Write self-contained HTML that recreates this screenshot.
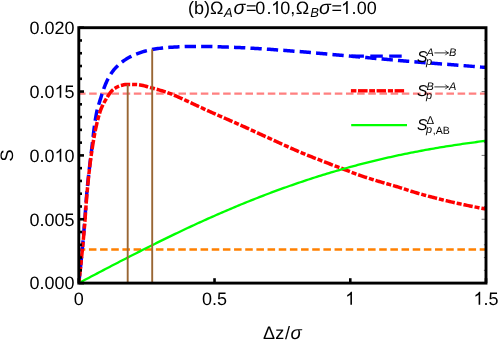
<!DOCTYPE html>
<html><head><meta charset="utf-8">
<style>
html,body{margin:0;padding:0;background:#fff;}
svg{display:block;}
text{font-family:"Liberation Sans",sans-serif;fill:#000;text-rendering:geometricPrecision;}
.it{font-style:italic;}
</style></head>
<body>
<svg style="will-change:transform" width="498" height="340" viewBox="0 0 498 340">
<rect x="0" y="0" width="498" height="340" fill="#fff"/>
<defs><clipPath id="clip"><rect x="78.8" y="27.7" width="407.2" height="255.40000000000003"/></clipPath></defs>
<g clip-path="url(#clip)" fill="none">
<line x1="78.0" y1="93.55" x2="487" y2="93.55" stroke="#ff8080" stroke-width="2.3" stroke-dasharray="7.55 3.615"/>
<line x1="77.75" y1="249.55" x2="487" y2="249.55" stroke="#ff8000" stroke-width="2.4" stroke-dasharray="7.55 3.615"/>
<path d="M78.80,283.10 L78.96,281.61 L79.12,280.13 L79.28,278.64 L79.44,277.15 L79.60,275.66 L79.76,274.18 L79.92,272.69 L80.07,271.20 L80.23,269.71 L80.38,268.22 L80.54,266.74 L80.69,265.25 L80.84,263.76 L80.99,262.27 L81.14,260.78 L81.29,259.29 L81.43,257.81 L81.58,256.32 L81.72,254.83 L81.87,253.34 L82.01,251.85 L82.15,250.36 L82.30,248.87 L82.44,247.38 L82.58,245.89 L82.71,244.40 L82.85,242.92 L82.99,241.43 L83.12,239.94 L83.26,238.45 L83.39,236.96 L83.52,235.47 L83.65,233.98 L83.78,232.49 L83.91,231.00 L84.04,229.51 L84.17,228.02 L84.29,226.53 L84.41,225.04 L84.53,223.54 L84.64,222.05 L84.75,220.56 L84.87,219.07 L84.98,217.58 L85.08,216.08 L85.19,214.59 L85.30,213.10 L85.41,211.61 L85.51,210.12 L85.62,208.62 L85.73,207.13 L85.84,205.64 L85.95,204.15 L86.06,202.66 L86.17,201.16 L86.29,199.67 L86.40,198.18 L86.52,196.69 L86.65,195.20 L86.77,193.71 L86.90,192.22 L87.03,190.73 L87.17,189.24 L87.31,187.75 L87.45,186.27 L87.60,184.78 L87.75,183.29 L87.90,181.80 L88.06,180.31 L88.21,178.83 L88.37,177.34 L88.54,175.85 L88.70,174.37 L88.87,172.88 L89.04,171.39 L89.21,169.91 L89.38,168.42 L89.55,166.93 L89.73,165.45 L89.91,163.96 L90.08,162.48 L90.26,160.99 L90.44,159.51 L90.62,158.02 L90.80,156.54 L90.98,155.05 L91.16,153.57 L91.35,152.08 L91.53,150.60 L91.71,149.11 L91.89,147.63 L92.06,146.14 L92.23,144.65 L92.40,143.16 L92.57,141.67 L92.74,140.18 L92.91,138.69 L93.08,137.20 L93.25,135.70 L93.43,134.21 L93.60,132.72 L93.78,131.24 L93.97,129.75 L94.16,128.26 L94.35,126.78 L94.55,125.29 L94.75,123.81 L94.97,122.33 L95.19,120.86 L95.42,119.38 L95.65,117.91 L95.90,116.44 L96.16,114.98 L96.43,113.52 L96.71,112.06 L97.02,110.60 L97.38,109.15 L97.76,107.71 L98.17,106.27 L98.60,104.83 L99.04,103.39 L99.50,101.96 L99.95,100.53 L100.41,99.11 L100.86,97.68 L101.31,96.25 L101.76,94.82 L102.22,93.39 L102.69,91.96 L103.17,90.53 L103.66,89.11 L104.17,87.70 L104.70,86.30 L105.25,84.91 L105.82,83.54 L106.41,82.19 L107.04,80.85 L107.70,79.50 L108.40,78.16 L109.14,76.83 L109.90,75.51 L110.70,74.23 L111.53,72.97 L112.39,71.76 L113.27,70.59 L114.19,69.46 L115.16,68.35 L116.18,67.26 L117.25,66.19 L118.35,65.14 L119.49,64.12 L120.66,63.13 L121.84,62.18 L123.04,61.27 L124.25,60.41 L125.47,59.59 L126.71,58.80 L127.99,58.04 L129.31,57.31 L130.64,56.60 L132.00,55.93 L133.37,55.29 L134.76,54.69 L136.14,54.13 L137.53,53.60 L138.92,53.10 L140.34,52.61 L141.76,52.13 L143.20,51.68 L144.64,51.25 L146.09,50.84 L147.55,50.47 L149.01,50.12 L150.47,49.81 L151.93,49.54 L153.39,49.29 L154.86,49.05 L156.34,48.81 L157.82,48.59 L159.30,48.38 L160.79,48.18 L162.28,48.00 L163.77,47.83 L165.27,47.67 L166.76,47.54 L168.25,47.42 L169.74,47.32 L171.23,47.23 L172.72,47.14 L174.21,47.06 L175.71,46.97 L177.20,46.90 L178.70,46.82 L180.19,46.76 L181.69,46.69 L183.19,46.64 L184.68,46.59 L186.18,46.56 L187.67,46.53 L189.17,46.51 L190.67,46.50 L192.16,46.50 L193.66,46.50 L195.15,46.50 L196.65,46.50 L198.14,46.50 L199.64,46.50 L201.14,46.50 L202.63,46.50 L204.13,46.50 L205.62,46.50 L207.12,46.50 L208.62,46.50 L210.11,46.52 L211.61,46.54 L213.10,46.57 L214.60,46.61 L216.09,46.66 L217.59,46.71 L219.08,46.76 L220.58,46.82 L222.07,46.88 L223.57,46.94 L225.06,46.99 L226.56,47.05 L228.05,47.11 L229.55,47.16 L231.04,47.22 L232.54,47.27 L234.03,47.34 L235.53,47.40 L237.02,47.46 L238.51,47.53 L240.01,47.60 L241.50,47.67 L243.00,47.74 L244.49,47.81 L245.99,47.89 L247.48,47.97 L248.97,48.05 L250.47,48.13 L251.96,48.21 L253.45,48.29 L254.95,48.38 L256.44,48.47 L257.93,48.56 L259.42,48.65 L260.92,48.74 L262.41,48.84 L263.90,48.94 L265.39,49.04 L266.89,49.14 L268.38,49.24 L269.87,49.35 L271.36,49.45 L272.86,49.56 L274.35,49.67 L275.84,49.78 L277.33,49.89 L278.82,50.00 L280.32,50.11 L281.81,50.23 L283.30,50.34 L284.79,50.45 L286.28,50.57 L287.77,50.69 L289.26,50.80 L290.76,50.92 L292.25,51.04 L293.74,51.15 L295.23,51.27 L296.72,51.39 L298.21,51.51 L299.70,51.62 L301.19,51.74 L302.68,51.86 L304.18,51.99 L305.67,52.11 L307.16,52.23 L308.65,52.36 L310.14,52.49 L311.63,52.62 L313.12,52.75 L314.61,52.88 L316.10,53.01 L317.59,53.14 L319.08,53.28 L320.57,53.41 L322.06,53.55 L323.55,53.68 L325.04,53.82 L326.53,53.96 L328.01,54.09 L329.50,54.23 L330.99,54.37 L332.48,54.50 L333.97,54.64 L335.46,54.78 L336.95,54.92 L338.44,55.05 L339.93,55.19 L341.42,55.33 L342.91,55.46 L344.40,55.60 L345.89,55.73 L347.38,55.87 L348.87,56.00 L350.36,56.13 L351.85,56.26 L353.34,56.40 L354.83,56.53 L356.32,56.66 L357.81,56.80 L359.30,56.93 L360.79,57.06 L362.28,57.20 L363.77,57.33 L365.26,57.47 L366.75,57.60 L368.24,57.74 L369.73,57.87 L371.22,58.01 L372.71,58.14 L374.20,58.28 L375.69,58.41 L377.18,58.55 L378.67,58.68 L380.16,58.82 L381.65,58.95 L383.14,59.08 L384.63,59.22 L386.11,59.35 L387.60,59.49 L389.09,59.62 L390.58,59.75 L392.07,59.88 L393.56,60.02 L395.05,60.15 L396.54,60.28 L398.03,60.41 L399.52,60.54 L401.01,60.67 L402.51,60.80 L404.00,60.93 L405.49,61.05 L406.98,61.18 L408.47,61.31 L409.96,61.43 L411.45,61.56 L412.94,61.68 L414.43,61.81 L415.92,61.93 L417.41,62.05 L418.90,62.17 L420.39,62.29 L421.88,62.41 L423.37,62.53 L424.87,62.64 L426.36,62.76 L427.85,62.87 L429.34,62.99 L430.83,63.10 L432.32,63.21 L433.81,63.32 L435.31,63.43 L436.80,63.54 L438.29,63.65 L439.78,63.77 L441.27,63.88 L442.76,63.99 L444.26,64.10 L445.75,64.21 L447.24,64.33 L448.73,64.44 L450.22,64.56 L451.71,64.67 L453.20,64.79 L454.70,64.91 L456.19,65.03 L457.68,65.15 L459.17,65.27 L460.66,65.39 L462.15,65.51 L463.64,65.63 L465.13,65.75 L466.62,65.88 L468.11,66.00 L469.60,66.12 L471.09,66.24 L472.59,66.37 L474.08,66.49 L475.57,66.62 L477.06,66.74 L478.55,66.87 L480.04,66.99 L481.53,67.12 L483.02,67.25 L484.51,67.37 L486.00,67.50" stroke="#0000ff" stroke-width="3.5" stroke-dasharray="11.3 5.15" stroke-dashoffset="1.25"/>
<path d="M78.80,283.10 L78.97,281.62 L79.14,280.13 L79.31,278.65 L79.48,277.17 L79.64,275.69 L79.81,274.20 L79.97,272.72 L80.14,271.24 L80.30,269.75 L80.46,268.27 L80.62,266.78 L80.78,265.30 L80.93,263.82 L81.09,262.33 L81.24,260.85 L81.40,259.36 L81.55,257.88 L81.70,256.40 L81.85,254.91 L82.00,253.43 L82.15,251.94 L82.30,250.46 L82.44,248.97 L82.59,247.49 L82.73,246.00 L82.87,244.52 L83.01,243.03 L83.15,241.55 L83.29,240.06 L83.43,238.58 L83.57,237.09 L83.70,235.60 L83.84,234.12 L83.97,232.63 L84.10,231.15 L84.23,229.66 L84.36,228.17 L84.48,226.69 L84.60,225.20 L84.72,223.71 L84.83,222.22 L84.95,220.74 L85.06,219.25 L85.17,217.76 L85.27,216.27 L85.38,214.78 L85.49,213.29 L85.59,211.80 L85.70,210.32 L85.80,208.83 L85.91,207.34 L86.02,205.85 L86.13,204.36 L86.24,202.87 L86.35,201.39 L86.46,199.90 L86.58,198.41 L86.70,196.92 L86.82,195.44 L86.95,193.95 L87.08,192.46 L87.21,190.98 L87.35,189.49 L87.49,188.01 L87.63,186.52 L87.77,185.04 L87.92,183.55 L88.07,182.07 L88.22,180.58 L88.37,179.09 L88.52,177.61 L88.68,176.12 L88.84,174.64 L89.00,173.15 L89.17,171.67 L89.34,170.18 L89.51,168.70 L89.68,167.22 L89.86,165.73 L90.05,164.25 L90.23,162.77 L90.42,161.29 L90.61,159.81 L90.81,158.33 L91.01,156.86 L91.21,155.38 L91.42,153.90 L91.64,152.43 L91.86,150.96 L92.08,149.49 L92.30,148.01 L92.53,146.54 L92.77,145.06 L93.00,143.58 L93.24,142.09 L93.49,140.61 L93.74,139.13 L94.00,137.64 L94.26,136.16 L94.53,134.67 L94.81,133.19 L95.10,131.71 L95.39,130.24 L95.69,128.76 L96.00,127.29 L96.32,125.83 L96.65,124.37 L96.99,122.91 L97.35,121.46 L97.71,120.02 L98.08,118.58 L98.46,117.15 L98.86,115.73 L99.27,114.32 L99.70,112.91 L100.13,111.52 L100.59,110.14 L101.12,108.76 L101.70,107.39 L102.33,106.03 L103.00,104.68 L103.71,103.34 L104.44,102.02 L105.19,100.72 L105.95,99.43 L106.71,98.15 L107.48,96.85 L108.28,95.54 L109.11,94.25 L109.99,93.00 L110.91,91.83 L111.89,90.77 L112.94,89.84 L114.10,88.93 L115.36,88.06 L116.68,87.25 L118.05,86.55 L119.45,85.97 L120.83,85.54 L122.26,85.17 L123.73,84.84 L125.22,84.58 L126.72,84.43 L128.21,84.40 L129.70,84.41 L131.19,84.43 L132.69,84.47 L134.19,84.51 L135.68,84.55 L137.16,84.61 L138.63,84.72 L140.10,84.92 L141.56,85.19 L143.02,85.51 L144.47,85.89 L145.93,86.29 L147.38,86.71 L148.82,87.13 L150.27,87.54 L151.71,87.93 L153.15,88.31 L154.59,88.69 L156.03,89.08 L157.47,89.49 L158.91,89.90 L160.35,90.32 L161.78,90.76 L163.20,91.20 L164.63,91.66 L166.04,92.12 L167.46,92.60 L168.86,93.09 L170.26,93.59 L171.65,94.13 L173.03,94.69 L174.40,95.28 L175.76,95.89 L177.13,96.50 L178.49,97.12 L179.85,97.73 L181.21,98.34 L182.57,98.95 L183.93,99.57 L185.29,100.19 L186.64,100.81 L188.00,101.44 L189.35,102.07 L190.70,102.70 L192.05,103.33 L193.41,103.97 L194.76,104.60 L196.10,105.24 L197.45,105.88 L198.80,106.51 L200.16,107.15 L201.51,107.78 L202.86,108.41 L204.21,109.04 L205.56,109.67 L206.92,110.30 L208.28,110.92 L209.63,111.53 L210.99,112.15 L212.36,112.76 L213.72,113.37 L215.08,113.97 L216.45,114.57 L217.81,115.17 L219.18,115.77 L220.55,116.37 L221.91,116.97 L223.28,117.56 L224.65,118.16 L226.02,118.76 L227.39,119.35 L228.75,119.95 L230.12,120.54 L231.49,121.14 L232.86,121.74 L234.22,122.34 L235.59,122.94 L236.95,123.54 L238.32,124.15 L239.68,124.76 L241.04,125.37 L242.40,125.98 L243.76,126.59 L245.12,127.21 L246.48,127.83 L247.84,128.45 L249.19,129.07 L250.55,129.69 L251.91,130.31 L253.26,130.93 L254.62,131.56 L255.97,132.18 L257.33,132.80 L258.69,133.43 L260.04,134.05 L261.40,134.67 L262.75,135.29 L264.11,135.91 L265.47,136.54 L266.82,137.16 L268.18,137.77 L269.54,138.39 L270.90,139.01 L272.26,139.63 L273.61,140.25 L274.97,140.87 L276.33,141.49 L277.68,142.11 L279.04,142.74 L280.40,143.36 L281.75,143.98 L283.11,144.60 L284.47,145.22 L285.83,145.84 L287.18,146.46 L288.54,147.07 L289.91,147.69 L291.27,148.30 L292.63,148.90 L293.99,149.51 L295.36,150.10 L296.73,150.70 L298.10,151.29 L299.47,151.88 L300.84,152.46 L302.22,153.03 L303.60,153.60 L304.98,154.17 L306.36,154.74 L307.74,155.30 L309.12,155.86 L310.51,156.41 L311.89,156.97 L313.28,157.52 L314.67,158.06 L316.06,158.61 L317.45,159.16 L318.84,159.70 L320.23,160.24 L321.62,160.78 L323.01,161.33 L324.40,161.87 L325.79,162.41 L327.18,162.94 L328.57,163.48 L329.97,164.01 L331.36,164.54 L332.76,165.06 L334.16,165.59 L335.55,166.12 L336.95,166.64 L338.35,167.17 L339.74,167.69 L341.14,168.22 L342.54,168.74 L343.93,169.27 L345.32,169.81 L346.72,170.35 L348.11,170.89 L349.50,171.43 L350.89,171.98 L352.28,172.52 L353.67,173.06 L355.06,173.60 L356.46,174.12 L357.86,174.64 L359.26,175.14 L360.67,175.63 L362.08,176.11 L363.49,176.59 L364.91,177.05 L366.33,177.52 L367.75,177.97 L369.17,178.42 L370.60,178.87 L372.02,179.31 L373.45,179.75 L374.88,180.19 L376.30,180.63 L377.73,181.06 L379.16,181.50 L380.59,181.93 L382.02,182.36 L383.45,182.78 L384.88,183.19 L386.31,183.61 L387.75,184.02 L389.18,184.43 L390.62,184.84 L392.05,185.25 L393.49,185.66 L394.92,186.08 L396.35,186.50 L397.78,186.93 L399.21,187.36 L400.63,187.80 L402.06,188.25 L403.47,188.71 L404.89,189.18 L406.31,189.65 L407.72,190.12 L409.14,190.59 L410.56,191.05 L411.98,191.50 L413.41,191.93 L414.84,192.36 L416.27,192.78 L417.70,193.20 L419.14,193.61 L420.57,194.02 L422.01,194.43 L423.44,194.83 L424.88,195.23 L426.32,195.63 L427.76,196.02 L429.20,196.41 L430.65,196.79 L432.09,197.17 L433.53,197.55 L434.98,197.93 L436.42,198.30 L437.87,198.66 L439.31,199.03 L440.76,199.39 L442.21,199.75 L443.66,200.10 L445.11,200.46 L446.56,200.80 L448.01,201.15 L449.46,201.49 L450.92,201.83 L452.37,202.17 L453.82,202.50 L455.28,202.84 L456.74,203.16 L458.19,203.49 L459.65,203.81 L461.11,204.12 L462.57,204.44 L464.03,204.75 L465.49,205.06 L466.95,205.36 L468.41,205.66 L469.87,205.96 L471.33,206.25 L472.80,206.54 L474.26,206.83 L475.73,207.11 L477.19,207.39 L478.66,207.67 L480.12,207.94 L481.59,208.21 L483.06,208.48 L484.53,208.74 L486.00,209.00" stroke="#ff0000" stroke-width="3.5" stroke-dasharray="9.4 1.9 5.05 1.9" stroke-dashoffset="11.35"/>
<path d="M78.80,283.10 L80.85,282.01 L82.90,280.93 L84.95,279.85 L87.01,278.76 L89.06,277.68 L91.11,276.60 L93.16,275.52 L95.21,274.44 L97.26,273.36 L99.31,272.28 L101.36,271.21 L103.42,270.13 L105.47,269.06 L107.52,267.99 L109.57,266.92 L111.62,265.85 L113.67,264.78 L115.72,263.71 L117.77,262.65 L119.83,261.59 L121.88,260.53 L123.93,259.47 L125.98,258.42 L128.03,257.36 L130.08,256.31 L132.13,255.27 L134.18,254.22 L136.24,253.18 L138.29,252.13 L140.34,251.10 L142.39,250.06 L144.44,249.03 L146.49,248.00 L148.54,246.97 L150.59,245.95 L152.65,244.92 L154.70,243.91 L156.75,242.89 L158.80,241.88 L160.85,240.87 L162.90,239.86 L164.95,238.86 L167.00,237.86 L169.06,236.87 L171.11,235.87 L173.16,234.88 L175.21,233.90 L177.26,232.92 L179.31,231.94 L181.36,230.97 L183.41,230.00 L185.47,229.03 L187.52,228.07 L189.57,227.11 L191.62,226.15 L193.67,225.20 L195.72,224.26 L197.77,223.32 L199.82,222.38 L201.88,221.44 L203.93,220.51 L205.98,219.59 L208.03,218.67 L210.08,217.75 L212.13,216.84 L214.18,215.93 L216.23,215.03 L218.29,214.13 L220.34,213.23 L222.39,212.34 L224.44,211.46 L226.49,210.58 L228.54,209.70 L230.59,208.83 L232.64,207.97 L234.70,207.10 L236.75,206.25 L238.80,205.40 L240.85,204.55 L242.90,203.71 L244.95,202.87 L247.00,202.04 L249.05,201.21 L251.11,200.39 L253.16,199.57 L255.21,198.76 L257.26,197.95 L259.31,197.15 L261.36,196.36 L263.41,195.57 L265.46,194.78 L267.52,194.00 L269.57,193.22 L271.62,192.45 L273.67,191.69 L275.72,190.93 L277.77,190.17 L279.82,189.42 L281.87,188.68 L283.93,187.94 L285.98,187.21 L288.03,186.48 L290.08,185.76 L292.13,185.04 L294.18,184.33 L296.23,183.62 L298.28,182.92 L300.34,182.23 L302.39,181.54 L304.44,180.85 L306.49,180.17 L308.54,179.50 L310.59,178.83 L312.64,178.17 L314.69,177.51 L316.75,176.86 L318.80,176.21 L320.85,175.57 L322.90,174.94 L324.95,174.31 L327.00,173.69 L329.05,173.07 L331.10,172.45 L333.16,171.85 L335.21,171.24 L337.26,170.65 L339.31,170.06 L341.36,169.47 L343.41,168.89 L345.46,168.31 L347.51,167.74 L349.57,167.18 L351.62,166.62 L353.67,166.07 L355.72,165.52 L357.77,164.98 L359.82,164.44 L361.87,163.91 L363.92,163.38 L365.98,162.86 L368.03,162.35 L370.08,161.84 L372.13,161.33 L374.18,160.83 L376.23,160.34 L378.28,159.85 L380.33,159.36 L382.39,158.89 L384.44,158.41 L386.49,157.94 L388.54,157.48 L390.59,157.02 L392.64,156.57 L394.69,156.12 L396.74,155.68 L398.80,155.24 L400.85,154.81 L402.90,154.38 L404.95,153.96 L407.00,153.54 L409.05,153.12 L411.10,152.72 L413.15,152.31 L415.21,151.91 L417.26,151.52 L419.31,151.13 L421.36,150.75 L423.41,150.37 L425.46,149.99 L427.51,149.62 L429.56,149.25 L431.62,148.89 L433.67,148.54 L435.72,148.18 L437.77,147.83 L439.82,147.49 L441.87,147.15 L443.92,146.82 L445.97,146.48 L448.03,146.16 L450.08,145.83 L452.13,145.52 L454.18,145.20 L456.23,144.89 L458.28,144.58 L460.33,144.28 L462.38,143.98 L464.44,143.69 L466.49,143.40 L468.54,143.11 L470.59,142.82 L472.64,142.54 L474.69,142.27 L476.74,142.00 L478.79,141.73 L480.85,141.46 L482.90,141.20 L484.95,140.94 L487.00,140.68" stroke="#00ff00" stroke-width="2.3"/>
<line x1="127.7" y1="283" x2="127.7" y2="84.4" stroke="#996633" stroke-width="1.9"/>
<line x1="152.2" y1="283" x2="152.2" y2="49.3" stroke="#996633" stroke-width="1.9"/>
</g>
<g stroke="#000" stroke-width="2.6" fill="none">
<line x1="78.8" y1="283.10" x2="84.0" y2="283.10"/>
<line x1="486.0" y1="283.10" x2="481.6" y2="283.10" stroke-width="0.55"/>
<line x1="78.8" y1="270.33" x2="82.0" y2="270.33"/>
<line x1="486.0" y1="270.33" x2="483.9" y2="270.33" stroke-width="0.55"/>
<line x1="78.8" y1="257.56" x2="82.0" y2="257.56"/>
<line x1="486.0" y1="257.56" x2="483.9" y2="257.56" stroke-width="0.55"/>
<line x1="78.8" y1="244.79" x2="82.0" y2="244.79"/>
<line x1="486.0" y1="244.79" x2="483.9" y2="244.79" stroke-width="0.55"/>
<line x1="78.8" y1="232.02" x2="82.0" y2="232.02"/>
<line x1="486.0" y1="232.02" x2="483.9" y2="232.02" stroke-width="0.55"/>
<line x1="78.8" y1="219.25" x2="84.0" y2="219.25"/>
<line x1="486.0" y1="219.25" x2="481.6" y2="219.25" stroke-width="0.55"/>
<line x1="78.8" y1="206.48" x2="82.0" y2="206.48"/>
<line x1="486.0" y1="206.48" x2="483.9" y2="206.48" stroke-width="0.55"/>
<line x1="78.8" y1="193.71" x2="82.0" y2="193.71"/>
<line x1="486.0" y1="193.71" x2="483.9" y2="193.71" stroke-width="0.55"/>
<line x1="78.8" y1="180.94" x2="82.0" y2="180.94"/>
<line x1="486.0" y1="180.94" x2="483.9" y2="180.94" stroke-width="0.55"/>
<line x1="78.8" y1="168.17" x2="82.0" y2="168.17"/>
<line x1="486.0" y1="168.17" x2="483.9" y2="168.17" stroke-width="0.55"/>
<line x1="78.8" y1="155.40" x2="84.0" y2="155.40"/>
<line x1="486.0" y1="155.40" x2="481.6" y2="155.40" stroke-width="0.55"/>
<line x1="78.8" y1="142.63" x2="82.0" y2="142.63"/>
<line x1="486.0" y1="142.63" x2="483.9" y2="142.63" stroke-width="0.55"/>
<line x1="78.8" y1="129.86" x2="82.0" y2="129.86"/>
<line x1="486.0" y1="129.86" x2="483.9" y2="129.86" stroke-width="0.55"/>
<line x1="78.8" y1="117.09" x2="82.0" y2="117.09"/>
<line x1="486.0" y1="117.09" x2="483.9" y2="117.09" stroke-width="0.55"/>
<line x1="78.8" y1="104.32" x2="82.0" y2="104.32"/>
<line x1="486.0" y1="104.32" x2="483.9" y2="104.32" stroke-width="0.55"/>
<line x1="78.8" y1="91.55" x2="84.0" y2="91.55"/>
<line x1="486.0" y1="91.55" x2="481.6" y2="91.55" stroke-width="0.55"/>
<line x1="78.8" y1="78.78" x2="82.0" y2="78.78"/>
<line x1="486.0" y1="78.78" x2="483.9" y2="78.78" stroke-width="0.55"/>
<line x1="78.8" y1="66.01" x2="82.0" y2="66.01"/>
<line x1="486.0" y1="66.01" x2="483.9" y2="66.01" stroke-width="0.55"/>
<line x1="78.8" y1="53.24" x2="82.0" y2="53.24"/>
<line x1="486.0" y1="53.24" x2="483.9" y2="53.24" stroke-width="0.55"/>
<line x1="78.8" y1="40.47" x2="82.0" y2="40.47"/>
<line x1="486.0" y1="40.47" x2="483.9" y2="40.47" stroke-width="0.55"/>
<line x1="78.8" y1="27.70" x2="84.0" y2="27.70"/>
<line x1="486.0" y1="27.70" x2="481.6" y2="27.70" stroke-width="0.55"/>
<line x1="78.80" y1="283.1" x2="78.80" y2="278.20000000000005"/>
<line x1="214.53" y1="283.1" x2="214.53" y2="278.20000000000005"/>
<line x1="350.27" y1="283.1" x2="350.27" y2="278.20000000000005"/>
<line x1="486.00" y1="283.1" x2="486.00" y2="278.20000000000005"/>
</g>
<rect x="78.8" y="27.7" width="407.2" height="255.40000000000003" fill="none" stroke="#000" stroke-width="2.9"/>
<!-- legend -->
<g fill="none">
<line x1="351.4" y1="56.1" x2="407" y2="56.1" stroke="#0000ff" stroke-width="3.2" stroke-dasharray="12.5 6.4"/>
<g stroke="#ff0000" stroke-width="3.4">
<line x1="350.9" y1="90.8" x2="356.4" y2="90.8"/>
<line x1="358.0" y1="90.8" x2="367.6" y2="90.8"/>
<line x1="369.2" y1="90.8" x2="375.0" y2="90.8"/>
<line x1="376.6" y1="90.8" x2="386.0" y2="90.8"/>
<line x1="387.9" y1="90.8" x2="393.0" y2="90.8"/>
<line x1="394.6" y1="90.8" x2="404.1" y2="90.8"/>
</g>
<line x1="351.2" y1="125.2" x2="407" y2="125.2" stroke="#00ff00" stroke-width="2.3"/>
</g>
<g font-size="15.7">
<text x="416.9" y="61.9" class="it">S</text>
<text x="426.1" y="64.7" font-size="10.9" class="it">p</text>
<text x="426.5" y="56.0" font-size="11" class="it">A</text>
<text x="449.0" y="56.0" font-size="11" class="it">B</text>
<path d="M434.4,52.9 H448.2 M445.4,50.6 Q446.3,52.3 448.6,52.9 Q446.3,53.5 445.4,55.2" stroke="#111" stroke-width="0.85" fill="none"/>
<text x="416.9" y="95.9" class="it">S</text>
<text x="426.1" y="98.7" font-size="10.9" class="it">p</text>
<text x="426.5" y="90.0" font-size="11" class="it">B</text>
<text x="449.0" y="90.0" font-size="11" class="it">A</text>
<path d="M434.4,86.9 H448.2 M445.4,84.6 Q446.3,86.3 448.6,86.9 Q446.3,87.5 445.4,89.2" stroke="#111" stroke-width="0.85" fill="none"/>
<text x="416.9" y="130.1" class="it">S</text>
<text x="426.1" y="132.9" font-size="10.9" class="it">p</text>
<text x="426.5" y="123.9" font-size="11.4">&#916;</text>
<text x="432.8" y="134.0" font-size="10.6">,AB</text>
</g>
<!-- labels -->
<g font-size="18">
<text x="29.54 39.55 44.55 54.56 64.57" y="289.40">0.000</text>
<text x="29.54 39.55 44.55 54.56 64.57" y="225.55">0.005</text>
<path d="M763 0H583V1147Q518 1085 412.5 1023T223 930V1104Q374 1175 487 1276T647 1472H763V0Z" transform="translate(54.56,161.70) scale(0.008789,-0.008789)" fill="#000"/><text x="29.54 39.55 44.55 64.57" y="161.70">0.00</text>
<path d="M763 0H583V1147Q518 1085 412.5 1023T223 930V1104Q374 1175 487 1276T647 1472H763V0Z" transform="translate(54.56,97.85) scale(0.008789,-0.008789)" fill="#000"/><text x="29.54 39.55 44.55 64.57" y="97.85">0.05</text>
<text x="29.54 39.55 44.55 54.56 64.57" y="34.00">0.020</text>
<text x="73.79" y="304.80">0</text>
<text x="202.02 212.03 217.03" y="304.80">0.5</text>
<path d="M763 0H583V1147Q518 1085 412.5 1023T223 930V1104Q374 1175 487 1276T647 1472H763V0Z" transform="translate(345.26,304.80) scale(0.008789,-0.008789)" fill="#000"/>
<path d="M763 0H583V1147Q518 1085 412.5 1023T223 930V1104Q374 1175 487 1276T647 1472H763V0Z" transform="translate(473.49,304.80) scale(0.008789,-0.008789)" fill="#000"/><text x="483.50 488.50" y="304.80">.5</text>

<text y="338.7"><tspan x="263 275.2 284.9">&#916;z/</tspan><tspan x="290.4" class="it" font-size="18.6">&#963;</tspan></text>
<text transform="translate(13.2,155.4) rotate(-90)" text-anchor="middle">S</text>
</g>
<g font-size="18">
<text y="13.9"><tspan x="188.0">(b)</tspan><tspan x="209.9">&#937;</tspan><tspan x="223.9" dy="3.1" font-size="13" class="it">A</tspan><tspan x="233.4" dy="-3.1" class="it" font-size="19.6">&#963;</tspan><tspan x="246.1">=</tspan><tspan x="255.3 266.4 280.3 290.2">0.0,</tspan><tspan x="295.7">&#937;</tspan><tspan x="310.2" dy="3.1" font-size="13" class="it">B</tspan><tspan x="318.9" dy="-3.1" class="it" font-size="19.6">&#963;</tspan><tspan x="331.6">=</tspan><tspan x="351.5 356.8 366.8">.00</tspan></text>
<path d="M763 0H583V1147Q518 1085 412.5 1023T223 930V1104Q374 1175 487 1276T647 1472H763V0Z" transform="translate(271.10,13.90) scale(0.008789,-0.008789)" fill="#000"/><path d="M763 0H583V1147Q518 1085 412.5 1023T223 930V1104Q374 1175 487 1276T647 1472H763V0Z" transform="translate(341.00,13.90) scale(0.008789,-0.008789)" fill="#000"/>
</g>
</svg>
</body></html>
